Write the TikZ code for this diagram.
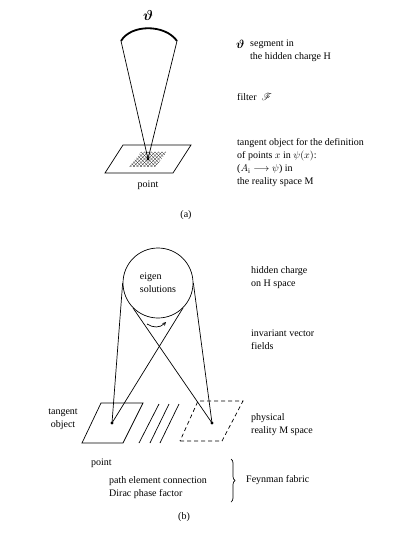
\documentclass[tikz,border=0pt]{standalone}
\usepackage{amsmath, amssymb}
\usepackage{mathrsfs}
\usepackage{fontspec}
\setmainfont{Liberation Serif}
\usepackage{tikz}
\usetikzlibrary{arrows}
\usetikzlibrary{decorations.pathreplacing}
\tikzset{x=1pt, y=-1pt,
every node/.style={ % Sets the properties for each label
inner sep=0pt,
font=\fontsize{10}{13}\selectfont},
txt/.style={anchor=west, align=left},
dot/.style={circle, fill, inner sep=1.2pt},
line/.style={line width=0.7pt},
seg/.style={line width=1.8pt},
hatch/.style={line width=0.3pt},
dashline/.style={line width=0.7pt, dash pattern=on 4pt off 3pt},
eigen/.style={circle, draw, line width=0.7pt, minimum size=70pt, align=left}}

\begin{document}
\begin{tikzpicture}
\useasboundingbox (0,0) rectangle (415,537);
% (a) segment, filter and tangent object
\node (theta) at (148,16) {\Large$\boldsymbol{\vartheta}$};
\coordinate (segl) at (121,41);
\coordinate (segr) at (177,41);
\draw[seg] (segl) .. controls (131,24) and (165,24) .. (segr);
\draw[line] (105,173) -- (173,173) -- (191,145) -- (123,145) -- cycle;
\begin{scope}
\clip (129,167) -- (155,167) -- (167,152) -- (141,152) -- cycle;
\foreach \i in {-42,-38.5,...,42} {
\draw[hatch] (148+\i-20,139) -- (148+\i+20,179);
\draw[hatch] (148+\i-20,179) -- (148+\i+20,139);
}
\end{scope}
\node[dot] (pa) at (148,159) {};
\draw[line] (segl) -- (pa.center);
\draw[line] (segr) -- (pa.center);
\node (pointa) at (148,185) {point};
\node[txt] (thetab) at (236,44) {\large$\boldsymbol{\vartheta}$};
\node[txt] (segtxt) at (250,50.5) {segment in\\the hidden charge H};
\node[txt] (filter) at (237,97) {filter \ $\mathscr{F}$};
\node[txt] (tangtxt) at (237,163) {tangent object for the definition\\of points $x$ in $\psi(x)$:\\($A_{\mathrm{i}}\longrightarrow\psi$) in\\the reality space M};
\node (capa) at (186,215) {(a)};
% (b) eigen solutions and Feynman fabric
\node[eigen] (eig) at (158,283) {eigen\\solutions};
\node[dot] (pl) at (112,423) {};
\node[dot] (pr) at (212,423) {};
\draw[line] (eig.west) -- (pl.center);
\draw[line] (eig.east) -- (pr.center);
\draw[line] (eig.-135) -- (pr.center);
\draw[line] (eig.-45) -- (pl.center);
\coordinate (rot1) at (147,324);
\coordinate (rot2) at (166,322);
\draw[line, ->, >=stealth] (rot1) .. controls (153,328) and (160,328) .. (rot2);
\draw[line] (82,443) -- (123,443) -- (143,403) -- (101,403) -- cycle;
\draw[line] (139,443) -- (159,404);
\draw[line] (150,443) -- (169,404);
\draw[line] (160,443) -- (179,404);
\draw[dashline] (180,441) -- (222,441) -- (243,401) -- (198,401) -- cycle;
\node[align=center] (tangobj) at (63,419) {tangent\\object};
\node[txt] (hidden) at (251,278) {hidden charge\\on H space};
\node[txt] (invar) at (251,340) {invariant vector\\fields};
\node[txt] (phys) at (251,425) {physical\\reality M space};
\node[txt] (pointb) at (91,463) {point};
\node[txt] (path) at (109,488) {path element connection\\Dirac phase factor};
\coordinate (bra1) at (231,459);
\coordinate (bra2) at (231,502);
\draw[line, decorate, decoration={brace, amplitude=4pt}] (bra1) -- (bra2);
\node[txt] (feyn) at (246,480) {Feynman fabric};
\node (capb) at (184,517) {(b)};
\end{tikzpicture}
\end{document}
